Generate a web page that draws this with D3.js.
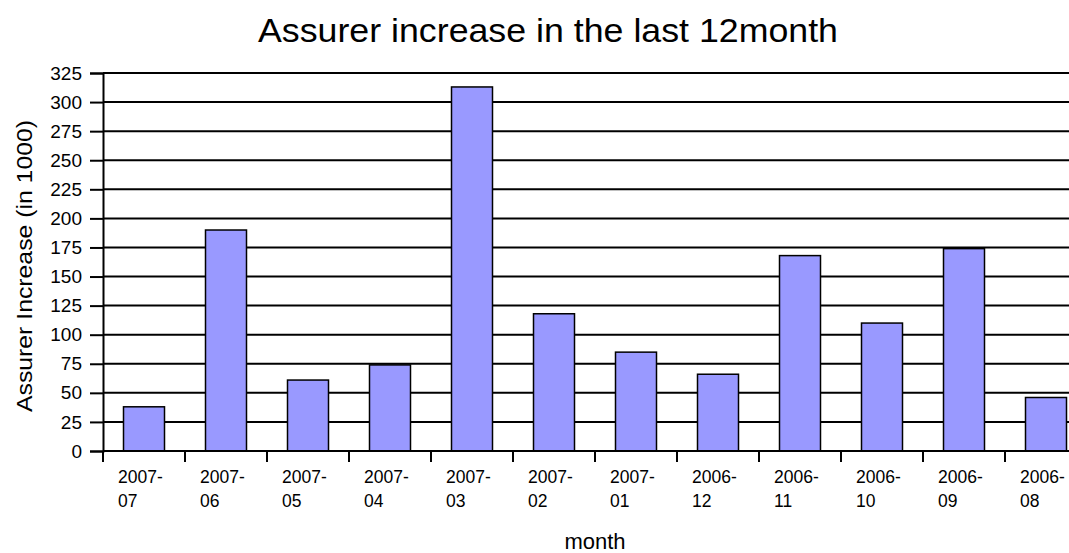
<!DOCTYPE html>
<html><head><meta charset="utf-8">
<script src="https://cdn.jsdelivr.net/npm/d3@7"></script>
<style>
html,body{margin:0;padding:0;background:#fff;overflow:hidden}
text{font-family:"Liberation Sans",Arial,sans-serif;fill:#000}
</style></head><body>
<svg id="c" width="1069" height="553"></svg>
<script>
const categories = ["2007-07","2007-06","2007-05","2007-04","2007-03","2007-02","2007-01","2006-12","2006-11","2006-10","2006-09","2006-08"];
const values = [38, 190, 61, 74, 313, 118, 85, 66, 168, 110, 174, 46];
const yTicks = [0,25,50,75,100,125,150,175,200,225,250,275,300,325];
const title = "Assurer increase in the last 12month";
const yTitle = "Assurer Increase (in 1000)";
const xTitle = "month";

const svg = d3.select("#c");
const plotLeft = 103, step = 82, plotTop = 73, plotBottom = 451;
const x = d3.scaleBand().domain(categories).range([plotLeft, plotLeft + step*categories.length]).paddingInner(0.5).paddingOuter(0.25);
const y = d3.scaleLinear().domain([0,325]).range([plotBottom, plotTop]);

// gridlines
svg.append("g").selectAll("line").data(yTicks.filter(d=>d>0)).join("line")
  .attr("x1", plotLeft).attr("x2", 1100)
  .attr("y1", d=>y(d)).attr("y2", d=>y(d))
  .attr("stroke","#000").attr("stroke-width",2);

// bars
svg.append("g").selectAll("rect").data(values).join("rect")
  .attr("x",(d,i)=>x(categories[i]))
  .attr("width",x.bandwidth())
  .attr("y",d=>y(d))
  .attr("height",d=>plotBottom-y(d))
  .attr("fill","#9999FF").attr("stroke","#000").attr("stroke-width",1.5);

// y axis
const ya = svg.append("g").attr("transform",`translate(${plotLeft},0)`)
  .call(d3.axisLeft(y).tickValues(yTicks).tickSize(13).tickPadding(8));
ya.select(".domain").attr("stroke","#000").attr("stroke-width",2);
ya.selectAll(".tick line").attr("stroke","#000").attr("stroke-width",2);
ya.selectAll(".tick text").attr("font-size",19).attr("font-family","Liberation Sans, Arial, sans-serif").attr("fill","#000");

// x axis baseline and ticks
const xTickPos = d3.range(categories.length+1).map(i=>plotLeft+i*step);
svg.append("line").attr("x1",plotLeft).attr("x2",1100).attr("y1",plotBottom).attr("y2",plotBottom).attr("stroke","#000").attr("stroke-width",2);
svg.append("g").selectAll("line").data(xTickPos).join("line")
  .attr("x1",d=>d).attr("x2",d=>d).attr("y1",plotBottom).attr("y2",plotBottom+11)
  .attr("stroke","#000").attr("stroke-width",2);

// x labels
const xl = svg.append("g").selectAll("text").data(categories).join("text")
  .attr("font-size",17.5);
xl.append("tspan").attr("x",d=>x(d)+x.bandwidth()/2-26).attr("y",483).text(d=>d.slice(0,5));
xl.append("tspan").attr("x",d=>x(d)+x.bandwidth()/2-26).attr("y",507).text(d=>d.slice(5));

// titles
svg.append("text").attr("x",548).attr("y",42).attr("text-anchor","middle").attr("font-size",34)
  .attr("textLength",580).attr("lengthAdjust","spacingAndGlyphs").text(title);
svg.append("text").attr("transform","translate(32,266) rotate(-90)").attr("text-anchor","middle").attr("font-size",22)
  .attr("textLength",292).attr("lengthAdjust","spacingAndGlyphs").text(yTitle);
svg.append("text").attr("x",595).attr("y",549).attr("text-anchor","middle").attr("font-size",22).text(xTitle);
</script></body></html>
